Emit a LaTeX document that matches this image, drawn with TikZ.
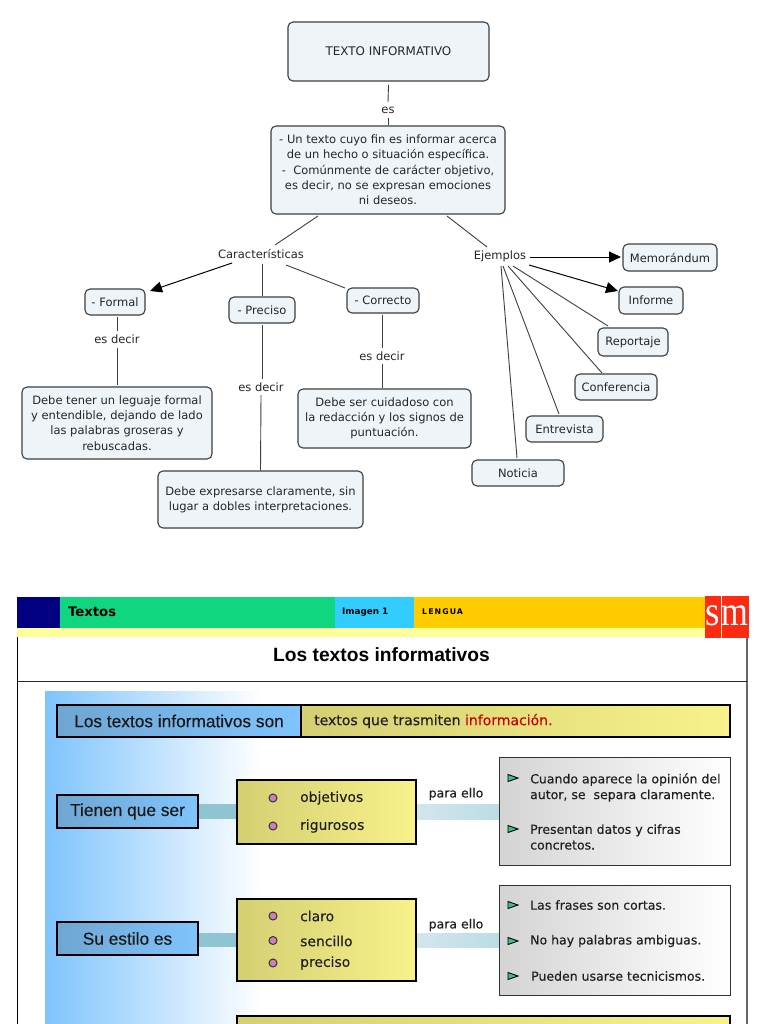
\documentclass[tikz,border=0pt]{standalone}
\usepackage{fontspec}
\setmainfont{DejaVu Sans}
\newfontfamily\slidef[FakeBold=0.25]{DejaVu Sans}
\newfontfamily\arialf[FakeBold=0.35]{Liberation Sans}
\newfontfamily\titlef{Liberation Sans}
\newfontfamily\timesf{Liberation Serif}
\newfontfamily\spacedf[LetterSpace=14]{DejaVu Sans}
\usetikzlibrary{arrows.meta}
\definecolor{mapfill}{HTML}{EEF4F7}
\definecolor{mapline}{HTML}{3A3F42}
\definecolor{maptext}{HTML}{262626}
\definecolor{skyb}{HTML}{7FC4FD}
\definecolor{steel}{HTML}{6FA6D2}
\definecolor{oliveL}{HTML}{D4CF72}
\definecolor{yellowR}{HTML}{F7F28A}
\definecolor{bandc}{HTML}{8FC5D3}
\definecolor{bandl}{HTML}{D3E6EE}
\definecolor{navyh}{HTML}{000080}
\definecolor{greenh}{HTML}{10D680}
\definecolor{cyanh}{HTML}{33CCFF}
\definecolor{orangeh}{HTML}{FFCC00}
\definecolor{paleh}{HTML}{FFFF99}
\definecolor{redh}{HTML}{FF2A12}
\definecolor{dotc}{HTML}{D080B8}
\definecolor{tric}{HTML}{3FBF90}
\tikzset{
  x=1pt,y=-1pt,
  mapbox/.style={draw=mapline,fill=mapfill,rounded corners=5pt,line width=1.1pt,text=maptext,inner sep=0pt,align=center,font=\fontsize{11.5}{15.3}\selectfont},
  maplabel/.style={inner sep=0pt,text=maptext,font=\fontsize{11.5}{13}\selectfont},
  link/.style={draw=mapline,line width=.9pt},
  arrowlink/.style={link,-{Triangle[length=12pt,width=11pt]},draw=black,line width=1pt},
  bluebox/.style={draw=black,line width=1.4pt,left color=steel,right color=skyb,inner sep=0pt,font=\arialf\fontsize{17.3}{20}\selectfont,text=black!90},
  yellowbox/.style={draw=black,line width=1.2pt,left color=oliveL,right color=yellowR,inner sep=0pt},
  graybox/.style={draw=black!80,line width=.9pt,left color=black!17,right color=white,inner sep=0pt},
  itemtxt/.style={inner sep=0pt,anchor=west,font=\slidef\fontsize{13.9}{15.5}\selectfont,text=black!88,align=left},
  pointtxt/.style={inner sep=0pt,anchor=west,font=\slidef\fontsize{12.5}{15.7}\selectfont,text=black!88,align=left},
  bulletdot/.style={circle,draw=black!80,fill=dotc,line width=1pt,minimum size=8pt,inner sep=0pt},
  trimark/.style={draw=black,fill=tric,line width=.9pt},
  headblock/.style={inner sep=0pt,text=black},
  smletter/.style={inner sep=0pt,anchor=base,text=white,font=\timesf\fontsize{42}{42}\selectfont}
}
\newcommand{\pointer}[2]{\draw[trimark] (#1,#2-3.5) -- (#1+10,#2) -- (#1,#2+3.5) -- cycle;}
\begin{document}
\begin{tikzpicture}
\clip (0,0) rectangle (768,1024);
\fill[white] (0,0) rectangle (768,1024);

% ---------- concept map ----------
\node[mapbox,minimum width=201pt,minimum height=59pt] (top) at (388.5,51.5) {\fontsize{11.9}{15}\selectfont TEXTO INFORMATIVO};
\node[maplabel,minimum width=14pt,minimum height=16pt] (es) at (388,110) {es};
\node[mapbox,minimum width=234pt,minimum height=88pt] (def) at (388,170) {- Un texto cuyo fin es informar acerca\\de un hecho o situación específica.\\-\ \ Comúnmente de carácter objetivo,\\es decir, no se expresan emociones\\ni deseos.};
\node[maplabel,minimum width=86pt,minimum height=16pt] (car) at (261,254) {Características};
\node[maplabel,minimum width=56pt,minimum height=16pt] (ej) at (500,256) {Ejemplos};

\node[mapbox,minimum width=60pt,minimum height=26pt] (formal) at (115,302) {- Formal};
\node[mapbox,minimum width=66pt,minimum height=26pt] (preciso) at (262,310) {- Preciso};
\node[mapbox,minimum width=72pt,minimum height=25pt] (correcto) at (383,300.5) {- Correcto};

\node[maplabel,minimum width=44pt,minimum height=16pt] (ed1) at (117,339) {es decir};
\node[maplabel,minimum width=44pt,minimum height=16pt] (ed2) at (261,387) {es decir};
\node[maplabel,minimum width=44pt,minimum height=16pt] (ed3) at (382,356) {es decir};

\node[mapbox,minimum width=190pt,minimum height=72pt] (b1) at (117,423) {Debe tener un leguaje formal\\y entendible, dejando de lado\\las palabras groseras y\\rebuscadas.};
\node[mapbox,minimum width=205pt,minimum height=57pt] (b2) at (260.5,499.5) {Debe expresarse claramente, sin\\lugar a dobles interpretaciones.};
\node[mapbox,minimum width=173pt,minimum height=59pt] (b3) at (384.5,418.5) {Debe ser cuidadoso con\\la redacción y los signos de\\puntuación.};

\node[mapbox,minimum width=94pt,minimum height=27pt] (mem) at (670,257.5) {Memorándum};
\node[mapbox,minimum width=64pt,minimum height=27pt] (inf) at (651,300.5) {Informe};
\node[mapbox,minimum width=70pt,minimum height=28pt] (rep) at (633,342) {Reportaje};
\node[mapbox,minimum width=82pt,minimum height=26pt] (conf) at (616,387) {Conferencia};
\node[mapbox,minimum width=77pt,minimum height=26pt] (ent) at (564.5,429) {Entrevista};
\node[mapbox,minimum width=92pt,minimum height=26pt] (not) at (518,473) {Noticia};

\draw[link] ([yshift=-3pt]top.south) -- ([yshift=8pt]es.center);
\draw[link] ([yshift=-8pt]es.center) -- (def.north);
\draw[link] ([xshift=-70pt,yshift=-46pt]def.center) -- ([xshift=14pt,yshift=9pt]car.center);
\draw[link] ([xshift=59pt,yshift=-46pt]def.center) -- ([xshift=-13pt,yshift=9pt]ej.center);

\draw[arrowlink] ([xshift=-29pt,yshift=-9pt]car.center) -- ([xshift=35pt,yshift=11pt]formal.center);
\draw[link] ([xshift=1pt,yshift=-10pt]car.center) -- ([yshift=14pt]preciso.center);
\draw[link] ([xshift=25pt,yshift=-11pt]car.center) -- ([xshift=-38pt,yshift=12.5pt]correcto.center);

\draw[link] ([xshift=2pt,yshift=-15pt]formal.center) -- ([yshift=8pt]ed1.center);
\draw[link] ([yshift=-9pt]ed1.center) -- ([yshift=38pt]b1.center);
\draw[link] ([yshift=-15pt]preciso.center) -- ([xshift=1pt,yshift=8pt]ed2.center);
\draw[link] ([yshift=-8pt]ed2.center) -- (b2.north);
\draw[link] ([xshift=-1pt,yshift=-14.5pt]correcto.center) -- ([yshift=8pt]ed3.center);
\draw[link] ([yshift=-8pt]ed3.center) -- ([xshift=-2.5pt,yshift=30.5pt]b3.center);

\draw[arrowlink] ([xshift=30pt,yshift=-1pt]ej.center) -- ([xshift=-49pt,yshift=.5pt]mem.center);
\draw[arrowlink] ([xshift=29pt,yshift=-9pt]ej.center) -- ([xshift=-33pt,yshift=9.5pt]inf.center);
\draw[link] ([xshift=13pt,yshift=-10pt]ej.center) -- ([xshift=-25pt,yshift=16pt]rep.center);
\draw[link] ([xshift=8pt,yshift=-10pt]ej.center) -- ([xshift=-14pt,yshift=14pt]conf.center);
\draw[link] ([xshift=3pt,yshift=-10pt]ej.center) -- ([xshift=-5.5pt,yshift=15pt]ent.center);
\draw[link] ([xshift=1pt,yshift=-10pt]ej.center) -- ([xshift=-1pt,yshift=15pt]not.center);

% ---------- slide: frame ----------
\shade[left color=skyb,right color=white] (45,691) rectangle (262,1030);
\draw[black,line width=1pt] (17,637) -- (17,1030);
\draw[black!60,line width=1.2pt] (747,637) -- (747,1030);
\draw[black!85,line width=1pt] (17,681) -- (747,681);

% header
\fill[paleh] (17,628) rectangle (747,637);
\fill[navyh] (17,597) rectangle (60,628);
\fill[greenh] (60,597) rectangle (335,628);
\fill[cyanh] (335,597) rectangle (414,628);
\fill[orangeh] (414,597) rectangle (705,628);
\fill[redh] (705,596) rectangle (720.5,638);
\fill[redh] (721.5,596) rectangle (749,638);
\node[smletter] (smS) at (713,625) {\scalebox{.88}[1]{s}};
\node[smletter] (smM) at (735.2,625) {\scalebox{.82}[1]{m}};
\node[headblock,anchor=west,font=\bfseries\fontsize{13.2}{15}\selectfont] (hTextos) at (68,612) {Textos};
\node[headblock,anchor=west,font=\bfseries\fontsize{8.8}{10}\selectfont] (hImagen) at (342,612) {Imagen 1};
\node[headblock,anchor=west,font=\spacedf\bfseries\fontsize{7.8}{9}\selectfont] (hLengua) at (422,612) {LENGUA};
\node[inner sep=0pt,font=\titlef\bfseries\fontsize{19.2}{22}\selectfont,text=black] (title) at (381.5,655) {Los textos informativos};

% first bar
\node[bluebox,minimum width=244pt,minimum height=32pt] (son) at (179,721) {Los textos informativos son};
\node[yellowbox,minimum width=429pt,minimum height=32pt] (sonR) at (515.5,721) {};
\node[inner sep=0pt,anchor=west,font=\slidef\fontsize{14}{16}\selectfont,text=black!88] (sonT) at (314,721) {textos que trasmiten \textcolor{red!80!black}{información.}};

% bands
\fill[bandc] (198,804) rectangle (237,819);
\fill[bandc] (198,933) rectangle (237,947);
\shade[left color=bandl,right color=bandc!60] (416,804) rectangle (499,819);
\shade[left color=bandl,right color=bandc!60] (416,933) rectangle (499,947);

% row 1
\node[bluebox,minimum width=141pt,minimum height=33pt] (ser) at (127.5,811.5) {Tienen que ser};
\node[yellowbox,minimum width=179pt,minimum height=64pt] (serY) at (326.5,812) {};
\node[bulletdot] (d1) at (273,798) {};
\node[bulletdot] (d2) at (273,826) {};
\node[itemtxt] (t1) at (300,798) {objetivos};
\node[itemtxt] (t2) at (300,826) {rigurosos};
\node[inner sep=0pt,font=\slidef\fontsize{12.5}{15}\selectfont,text=black!88] (pe1) at (456,794) {para ello};
\node[graybox,minimum width=231pt,minimum height=108pt] (g1) at (614.5,811) {};
\pointer{508}{778}
\pointer{508}{829}
\node[pointtxt] (p1) at (530,787.5) {Cuando aparece la opinión del\\autor, se \ separa claramente.};
\node[pointtxt] (p2) at (530,837) {Presentan datos y cifras\\concretos.};

% row 2
\node[bluebox,minimum width=141pt,minimum height=33pt] (est) at (127.5,938.5) {Su estilo es};
\node[yellowbox,minimum width=179pt,minimum height=82pt] (estY) at (326.5,940) {};
\node[bulletdot] (d3) at (273,916) {};
\node[bulletdot] (d4) at (273,940.5) {};
\node[bulletdot] (d5) at (273,963) {};
\node[itemtxt] (t3) at (300,916) {claro};
\node[itemtxt] (t4) at (300,941) {sencillo};
\node[itemtxt] (t5) at (300,963) {preciso};
\node[inner sep=0pt,font=\slidef\fontsize{12.5}{15}\selectfont,text=black!88] (pe2) at (456,925) {para ello};
\node[graybox,minimum width=231pt,minimum height=110pt] (g2) at (614.5,940) {};
\pointer{508}{905}
\pointer{508}{941}
\pointer{508}{976}
\node[pointtxt] (p3) at (530,905) {Las frases son cortas.};
\node[pointtxt] (p4) at (530,941) {No hay palabras ambiguas.};
\node[pointtxt] (p5) at (531,976) {Pueden usarse tecnicismos.};

% bottom bar
\node[yellowbox,minimum width=493pt,minimum height=40pt] (bot) at (483.5,1036) {};
\end{tikzpicture}
\end{document}
